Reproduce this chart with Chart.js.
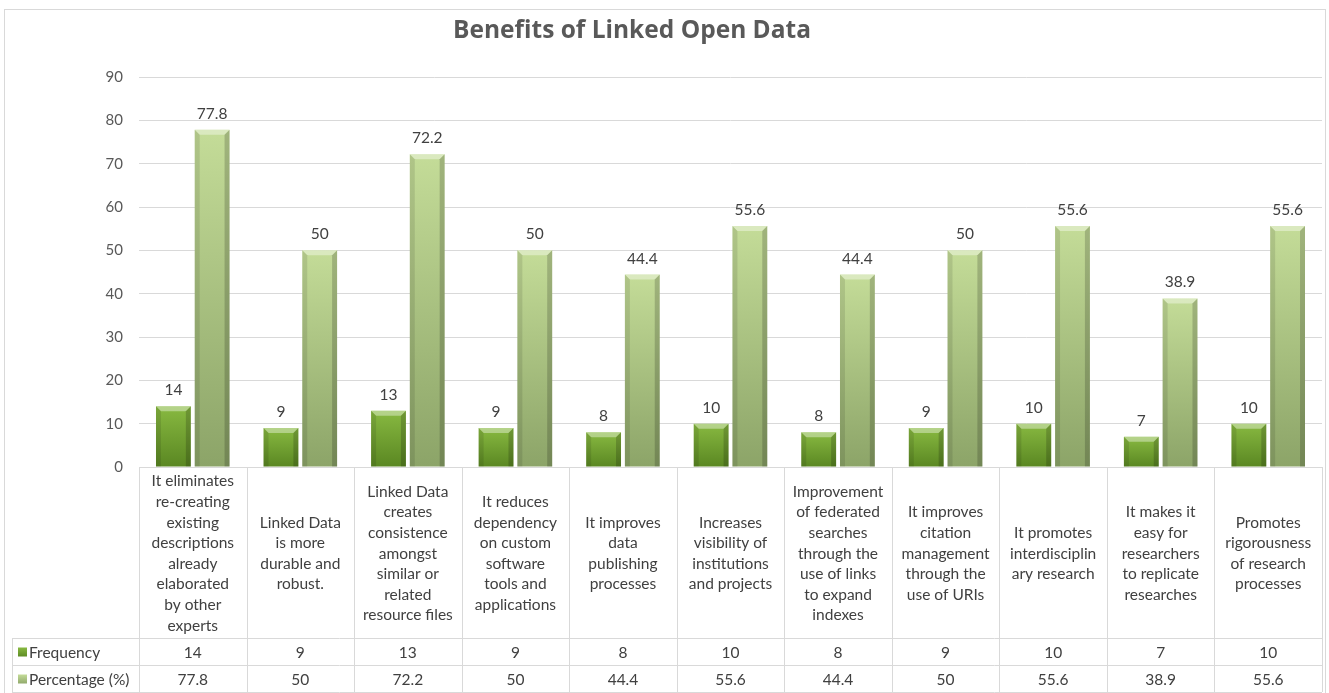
<!DOCTYPE html>
<html>
<head>
<meta charset="utf-8">
<title>Benefits of Linked Open Data</title>
<script src="https://cdn.jsdelivr.net/npm/chart.js@4"></script>
<style>
  body { margin: 0; background: #fff; }
  .chart-box { width: 1329px; height: 693px; position: relative; }
</style>
</head>
<body>
<div class="chart-box"><canvas id="benefits-chart"></canvas></div>
<script>
const chartTitle = "Benefits of Linked Open Data";

// category labels, already broken into lines as in the table
const categories = [
  ["It eliminates", "re-creating", "existing", "descriptions", "already", "elaborated", "by other", "experts"],
  ["Linked Data", "is more", "durable and", "robust."],
  ["Linked Data", "creates", "consistence", "amongst", "similar or", "related", "resource files"],
  ["It reduces", "dependency", "on custom", "software", "tools and", "applications"],
  ["It improves", "data", "publishing", "processes"],
  ["Increases", "visibility of", "institutions", "and projects"],
  ["Improvement", "of federated", "searches", "through the", "use of links", "to expand", "indexes"],
  ["It improves", "citation", "management", "through the", "use of URIs"],
  ["It promotes", "interdisciplin", "ary research"],
  ["It makes it", "easy for", "researchers", "to replicate", "researches"],
  ["Promotes", "rigorousness", "of research", "processes"]
];

const seriesNames = ["Frequency", "Percentage (%)"];
const frequency = [14, 9, 13, 9, 8, 10, 8, 9, 10, 7, 10];
const percentage = [77.8, 50, 72.2, 50, 44.4, 55.6, 44.4, 50, 55.6, 38.9, 55.6];

const FONT = "Lato, 'Open Sans', sans-serif";
const GRID = "#d9d9d9";
const TEXT = "#404040";

const barColors = [
  { top: "#88b941", bottom: "#5a8722", key: "#6e9f30" },
  { top: "#c4dc98", bottom: "#8ca468", key: "#b3cd85" }
];

function barGradient(idx) {
  return function(ctx) {
    const c = barColors[idx];
    const y = ctx.chart.scales.y;
    if (ctx.type !== "data" || !y) return c.key;
    const top = y.getPixelForValue(ctx.raw);
    const base = y.getPixelForValue(0);
    if (!isFinite(top) || !isFinite(base) || top === base) return c.key;
    const g = ctx.chart.ctx.createLinearGradient(0, top, 0, base);
    g.addColorStop(0, c.top);
    g.addColorStop(1, c.bottom);
    return g;
  };
}

// bevel look on the bars (light top edge, darker sides)
const bevelPlugin = {
  id: "bevel",
  afterDatasetsDraw(chart) {
    const ctx = chart.ctx;
    chart.data.datasets.forEach(function(ds, di) {
      chart.getDatasetMeta(di).data.forEach(function(bar) {
        const p = bar.getProps(["x", "y", "base", "width"], true);
        const l = p.x - p.width / 2, r = p.x + p.width / 2;
        const b = 5;
        ctx.save();
        ctx.fillStyle = "rgba(255,255,255,0.38)";
        ctx.beginPath();
        ctx.moveTo(l, p.y); ctx.lineTo(r, p.y);
        ctx.lineTo(r - b, p.y + b); ctx.lineTo(l + b, p.y + b);
        ctx.closePath(); ctx.fill();
        ctx.fillStyle = "rgba(0,0,0,0.10)";
        ctx.beginPath();
        ctx.moveTo(l, p.y); ctx.lineTo(l + b, p.y + b);
        ctx.lineTo(l + b, p.base); ctx.lineTo(l, p.base);
        ctx.closePath(); ctx.fill();
        ctx.fillStyle = "rgba(0,0,0,0.18)";
        ctx.beginPath();
        ctx.moveTo(r, p.y); ctx.lineTo(r - b, p.y + b);
        ctx.lineTo(r - b, p.base); ctx.lineTo(r, p.base);
        ctx.closePath(); ctx.fill();
        ctx.restore();
      });
    });
  }
};

// values above the bars
const valueLabelPlugin = {
  id: "valueLabels",
  afterDatasetsDraw(chart) {
    const ctx = chart.ctx;
    ctx.save();
    ctx.font = "15.5px " + FONT;
    ctx.fillStyle = TEXT;
    ctx.textAlign = "center";
    ctx.textBaseline = "alphabetic";
    chart.data.datasets.forEach(function(ds, di) {
      chart.getDatasetMeta(di).data.forEach(function(bar, i) {
        ctx.fillText(String(ds.data[i]), bar.x, bar.y - 11);
      });
    });
    ctx.restore();
  }
};

// title, outer frame and the data table under the plot
const tablePlugin = {
  id: "dataTable",
  afterDraw(chart) {
    const ctx = chart.ctx;
    const area = chart.chartArea;
    const xs = chart.scales.x;
    const colW = (area.right - area.left) / categories.length;
    const top = area.bottom;
    const labelBottom = top + 171;
    const rowH = 27;
    const tableLeft = 12;

    ctx.save();
    // frame
    ctx.strokeStyle = GRID;
    ctx.lineWidth = 1;
    ctx.strokeRect(4.5, 9.5, 1321, 700);

    // title
    ctx.fillStyle = "#595959";
    ctx.font = "bold 24.5px 'Open Sans', sans-serif";
    ctx.textAlign = "center";
    ctx.textBaseline = "middle";
    ctx.fillText(chartTitle, 632, 31);

    // grid lines of the table
    ctx.beginPath();
    ctx.moveTo(area.left, Math.round(top) + 0.5);
    ctx.lineTo(area.right, Math.round(top) + 0.5);
    for (let r = 0; r <= 2; r++) {
      const yy = Math.round(labelBottom + r * rowH) + 0.5;
      ctx.moveTo(tableLeft, yy);
      ctx.lineTo(area.right, yy);
    }
    for (let i = 0; i <= categories.length; i++) {
      const xx = Math.round(area.left + i * colW) + 0.5;
      ctx.moveTo(xx, top);
      ctx.lineTo(xx, labelBottom + 2 * rowH);
    }
    ctx.moveTo(tableLeft + 0.5, labelBottom);
    ctx.lineTo(tableLeft + 0.5, labelBottom + 2 * rowH);
    ctx.stroke();

    // category texts
    ctx.fillStyle = TEXT;
    ctx.font = "15.5px " + FONT;
    const lineH = 20.6;
    const midY = (top + labelBottom) / 2 + 1;
    categories.forEach(function(lines, i) {
      const cx = xs.getPixelForValue(i);
      const y0 = midY - (lines.length - 1) * lineH / 2;
      lines.forEach(function(line, k) {
        ctx.fillText(line, cx, y0 + k * lineH);
      });
    });

    // value rows
    [frequency, percentage].forEach(function(values, r) {
      const cy = labelBottom + r * rowH + rowH / 2 + 1;
      ctx.textAlign = "center";
      values.forEach(function(v, i) {
        ctx.fillText(String(v), xs.getPixelForValue(i), cy);
      });
      // legend key + series name
      const g = ctx.createLinearGradient(0, cy - 5, 0, cy + 5);
      g.addColorStop(0, barColors[r].top);
      g.addColorStop(1, barColors[r].bottom);
      ctx.fillStyle = g;
      ctx.fillRect(18, cy - 5, 9, 9);
      ctx.fillStyle = TEXT;
      ctx.textAlign = "left";
      ctx.fillText(seriesNames[r], 29, cy);
    });
    ctx.restore();
  }
};

new Chart(document.getElementById("benefits-chart"), {
  type: "bar",
  data: {
    labels: categories.map(function(lines) { return lines.join(" "); }),
    datasets: [
      { label: seriesNames[0], data: frequency, backgroundColor: barGradient(0), borderWidth: 0 },
      { label: seriesNames[1], data: percentage, backgroundColor: barGradient(1), borderWidth: 0 }
    ]
  },
  options: {
    responsive: true,
    maintainAspectRatio: false,
    animation: false,
    events: [],
    datasets: { bar: { categoryPercentage: 0.72, barPercentage: 0.9 } },
    layout: { padding: { left: 0, right: 7, top: 77, bottom: 226 } },
    plugins: { legend: { display: false }, title: { display: false }, tooltip: { enabled: false } },
    scales: {
      x: { display: false, offset: true },
      y: {
        min: 0,
        max: 90,
        ticks: { stepSize: 10, color: "#595959", font: { family: FONT, size: 15 }, padding: 16 },
        grid: { color: GRID, drawTicks: false },
        border: { display: false },
        afterFit(scale) { scale.width = 139; }
      }
    }
  },
  plugins: [bevelPlugin, valueLabelPlugin, tablePlugin]
});
</script>
</body>
</html>
